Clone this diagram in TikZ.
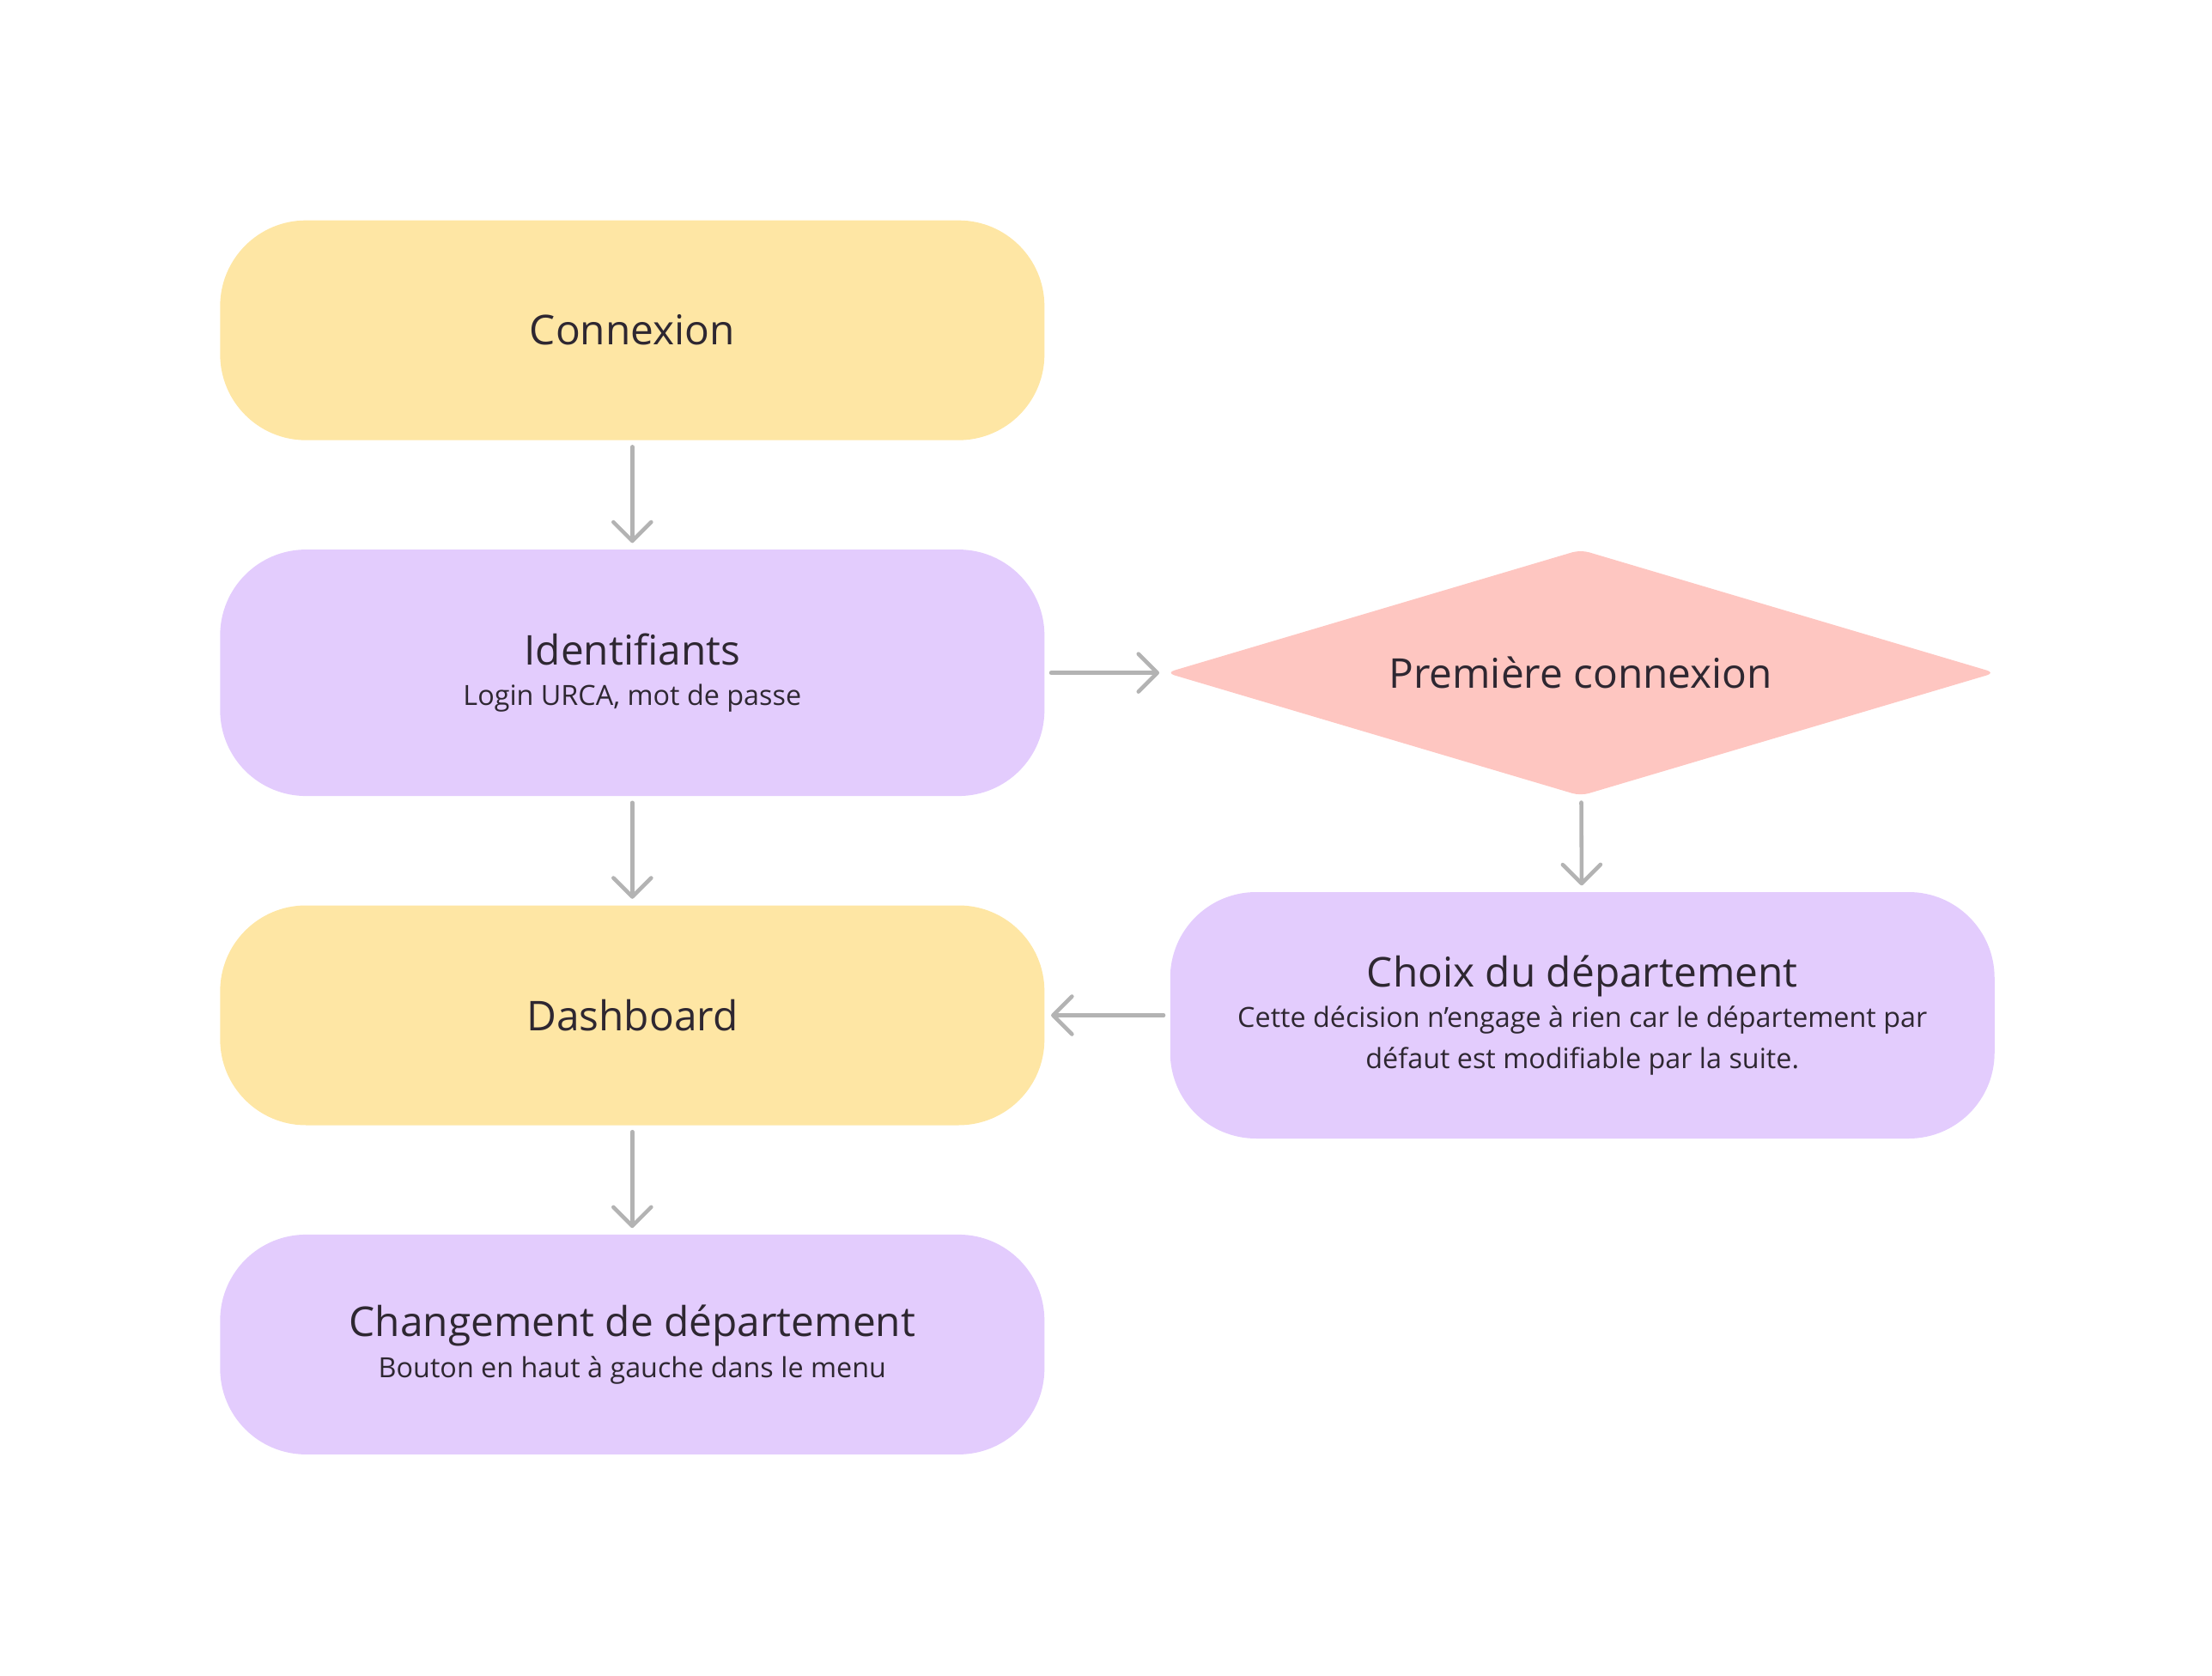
\documentclass[tikz,border=0pt]{standalone}
\usepackage{fontspec}
\setmainfont{Open Sans}
\usetikzlibrary{positioning,shapes.geometric,arrows.meta}
\definecolor{jaune}{HTML}{FEE6A4}
\definecolor{violet}{HTML}{E3CCFD}
\definecolor{rose}{HTML}{FEC6C1}
\definecolor{fleche}{HTML}{B3B3B3}
\definecolor{encre}{HTML}{2E2731}
\newcommand{\gros}{\fontsize{13.6}{17}\selectfont}
\newcommand{\petit}{\fontsize{9.2}{13.6}\selectfont}
\tikzset{
    boite/.style={rounded corners=10mm, minimum width=96mm, minimum height=25.6mm,
        align=center, text=encre, inner sep=0pt},
    jaunebox/.style={boite, fill=jaune},
    violetbox/.style={boite, fill=violet, minimum height=28.7mm},
    question/.style={diamond, fill=rose, minimum width=96.6mm, minimum height=28.7mm,
        aspect=3.36, rounded corners=1mm, text=encre, inner sep=0pt},
    fl/.style={draw=fleche, line width=1.3pt, line cap=round,
        -{Straight Barb[length=2.2mm,width=4.4mm,round]},
        shorten <=0.7mm, shorten >=0.7mm}
}
\begin{document}
\begin{tikzpicture}[x=0.1651mm,y=-0.1651mm]
        \useasboundingbox (0,0) rectangle (1560.3,1182.3);
        \node[jaunebox] (connexion) at (446,233) {\gros Connexion};
        \node[violetbox, below=12.6mm of connexion] (identifiants)
            {{\gros Identifiants}\\[1.5pt]{\petit Login URCA, mot de passe}};
        \node[jaunebox, below=12.6mm of identifiants] (dashboard) {\gros Dashboard};
        \node[violetbox, minimum height=25.6mm, below=12.6mm of dashboard] (changement)
            {{\gros Changement de département}\\[1.5pt]{\petit Bouton en haut à gauche dans le menu}};
        \node[question, right=14mm of identifiants] (premiere) {\gros Première connexion};
        \node[violetbox, right=14.5mm of dashboard] (choix)
            {{\gros Choix du département}\\[1.5pt]{\petit Cette décision n’engage à rien car le département par}\\[1.6pt]
            {\petit défaut est modifiable par la suite.}};

        \draw[fl] (connexion) -- (identifiants);
        \draw[fl] (identifiants) -- (dashboard);
        \draw[fl] (dashboard) -- (changement);
        \draw[fl] (identifiants) -- (premiere);
        \draw[fl] (premiere) -- (choix);
        \draw[fl] (choix) -- (dashboard);
\end{tikzpicture}
\end{document}
